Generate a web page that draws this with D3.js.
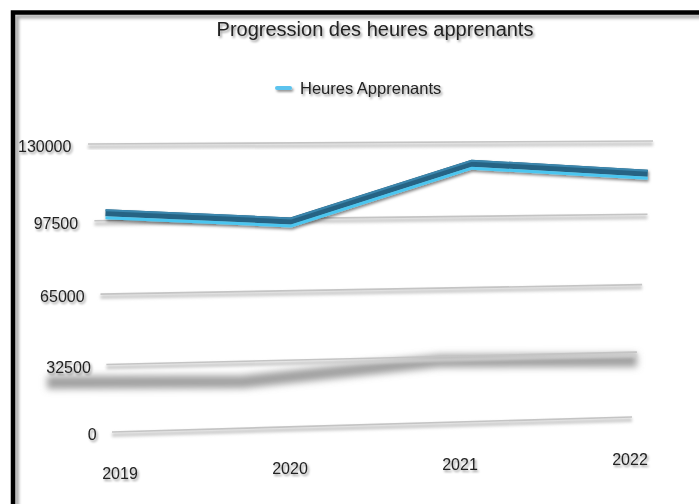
<!DOCTYPE html>
<html>
<head>
<meta charset="utf-8">
<script src="https://cdn.jsdelivr.net/npm/d3@7"></script>
<style>
	body {margin: 0; background: #fff;}
	svg {display: block; font-family: "Liberation Sans", Arial, sans-serif;}
</style>
</head>
<body>
<div id="chart-area"></div>
<script>
// Chart data
let years = ["2019", "2020", "2021", "2022"];
let heures = [100000, 95500, 120000, 115000];
let yTicks = [0, 32500, 65000, 97500, 130000];
let seriesName = "Heures Apprenants";
let chartTitle = "Progression des heures apprenants";

// SVG size
let width = 699,
	height = 504;

// Corners of the tilted floor the chart is drawn on: (u,v) = (0,0), (1,0), (1,1), (0,1)
let plane = [[112, 432], [632, 417], [653, 141], [88, 144]];
// Plane used for the soft shadow the line casts below
let shadowPlane = [[35, 452], [640, 440], [640, 350], [35, 362]];

// Square -> quad perspective mapping
function makeProjection(q) {
	let [x0, y0] = q[0], [x1, y1] = q[1], [x2, y2] = q[2], [x3, y3] = q[3];
	let dx1 = x1 - x2, dx2 = x3 - x2, dx3 = x0 - x1 + x2 - x3;
	let dy1 = y1 - y2, dy2 = y3 - y2, dy3 = y0 - y1 + y2 - y3;
	let den = dx1 * dy2 - dx2 * dy1;
	let g = (dx3 * dy2 - dx2 * dy3) / den,
		h = (dx1 * dy3 - dx3 * dy1) / den;
	let a = x1 - x0 + g * x1, b = x3 - x0 + h * x3, c = x0;
	let d = y1 - y0 + g * y1, e = y3 - y0 + h * y3, f = y0;
	return (u, v) => {
		let w = g * u + h * v + 1;
		return [(a * u + b * v + c) / w, (d * u + e * v + f) / w];
	};
}

let proj = makeProjection(plane);
let shadowProj = makeProjection(shadowPlane);

// Scales into the flat (u,v) space
let xScale = d3.scalePoint().domain(years).range([0.02, 0.995]);
let yScale = d3.scaleLinear().domain([0, 130000]).range([0, 1]);

// Year labels sit under the floor, following its slant
let xLabelX = d3.scalePoint().domain(years).range([120, 630]);
let xLabelY = d3.scalePoint().domain(years).range([479, 465]);

let svg = d3.select("#chart-area")
	.append("svg")
	.attr("width", width)
	.attr("height", height);

let defs = svg.append("defs");

let textShadow = defs.append("filter").attr("id", "textShadow")
	.attr("x", "-20%").attr("y", "-50%").attr("width", "140%").attr("height", "200%");
textShadow.append("feDropShadow")
	.attr("dx", 1.5).attr("dy", 2).attr("stdDeviation", 1.3)
	.attr("flood-color", "#000").attr("flood-opacity", 0.4);

let lineShadow = defs.append("filter").attr("id", "lineShadow")
	.attr("x", "-10%").attr("y", "-50%").attr("width", "120%").attr("height", "200%");
lineShadow.append("feDropShadow")
	.attr("dx", 1).attr("dy", 2).attr("stdDeviation", 1.5)
	.attr("flood-color", "#000").attr("flood-opacity", 0.5);

let blur = defs.append("filter").attr("id", "blur")
	.attr("x", "-10%").attr("y", "-100%").attr("width", "120%").attr("height", "300%");
blur.append("feGaussianBlur").attr("stdDeviation", 3.5);

let softBlur = defs.append("filter").attr("id", "softBlur")
	.attr("x", "-10%").attr("y", "-100%").attr("width", "120%").attr("height", "300%");
softBlur.append("feGaussianBlur").attr("stdDeviation", 1.5);

// Frame round the picture, with a soft inner shadow
svg.append("rect")
	.attr("x", 17).attr("y", 16.5)
	.attr("width", 720).attr("height", 520)
	.attr("fill", "none")
	.attr("stroke", "#aaa")
	.attr("stroke-width", 4)
	.attr("filter", "url(#softBlur)");

svg.append("rect")
	.attr("x", 13).attr("y", 12.5)
	.attr("width", 720).attr("height", 520)
	.attr("fill", "none")
	.attr("stroke", "#000")
	.attr("stroke-width", 4.5);

// Title
svg.append("text")
	.attr("x", 375)
	.attr("y", 36)
	.attr("text-anchor", "middle")
	.attr("font-size", 20)
	.attr("fill", "#222")
	.attr("filter", "url(#textShadow)")
	.text(chartTitle);

// Legend
let legend = svg.append("g").attr("filter", "url(#textShadow)");
legend.append("rect")
	.attr("x", 275).attr("y", 86)
	.attr("width", 17).attr("height", 4)
	.attr("rx", 2)
	.attr("fill", "#5cc3ee");
legend.append("text")
	.attr("x", 300)
	.attr("y", 94)
	.attr("font-size", 16.5)
	.attr("fill", "#222")
	.text(seriesName);

// Shadow cast by the line on the floor
let line = d3.line();
svg.append("path")
	.datum(heures)
	.attr("d", line(heures.map((v, i) => shadowProj(xScale(years[i]), yScale(v)))))
	.attr("fill", "none")
	.attr("stroke", "#888")
	.attr("stroke-width", 13)
	.attr("stroke-opacity", 0.8)
	.attr("filter", "url(#blur)");

// Grid lines
let grid = svg.append("g").attr("class", "grid");
grid.selectAll("line.gshadow")
	.data(yTicks)
	.enter()
	.append("line")
	.attr("class", "gshadow")
	.attr("x1", d => proj(0, yScale(d))[0])
	.attr("y1", d => proj(0, yScale(d))[1] + 3)
	.attr("x2", d => proj(1, yScale(d))[0])
	.attr("y2", d => proj(1, yScale(d))[1] + 3)
	.attr("stroke", "#ccc")
	.attr("stroke-width", 4)
	.attr("filter", "url(#softBlur)");
grid.selectAll("line.gline")
	.data(yTicks)
	.enter()
	.append("line")
	.attr("class", "gline")
	.attr("x1", d => proj(0, yScale(d))[0])
	.attr("y1", d => proj(0, yScale(d))[1])
	.attr("x2", d => proj(1, yScale(d))[0])
	.attr("y2", d => proj(1, yScale(d))[1])
	.attr("stroke", "#c4c4c4")
	.attr("stroke-width", 1.6);

// Y tick labels
svg.append("g")
	.attr("filter", "url(#textShadow)")
	.selectAll("text")
	.data(yTicks)
	.enter()
	.append("text")
	.attr("x", d => proj(-0.028, yScale(d))[0])
	.attr("y", d => proj(-0.028, yScale(d))[1] + 8)
	.attr("text-anchor", "end")
	.attr("font-size", 16)
	.attr("fill", "#222")
	.text(d => d);

// X tick labels
svg.append("g")
	.attr("filter", "url(#textShadow)")
	.selectAll("text")
	.data(years)
	.enter()
	.append("text")
	.attr("x", d => xLabelX(d))
	.attr("y", d => xLabelY(d))
	.attr("text-anchor", "middle")
	.attr("font-size", 16)
	.attr("fill", "#222")
	.text(d => d);

// The series as a ribbon: dark top face, bright cyan front edge
let pts = heures.map((v, i) => proj(xScale(years[i]), yScale(v)));
let ribbon = svg.append("g").attr("filter", "url(#lineShadow)");
ribbon.append("path")
	.attr("d", line(pts))
	.attr("transform", "translate(0,-2)")
	.attr("fill", "none")
	.attr("stroke", "#276484")
	.attr("stroke-width", 7)
	.attr("stroke-linejoin", "miter");
ribbon.append("path")
	.attr("d", line(pts))
	.attr("transform", "translate(0,-4.5)")
	.attr("fill", "none")
	.attr("stroke", "#3a86ad")
	.attr("stroke-width", 2);
ribbon.append("path")
	.attr("d", line(pts))
	.attr("transform", "translate(0,3)")
	.attr("fill", "none")
	.attr("stroke", "#4cc6f0")
	.attr("stroke-width", 3);
</script>
</body>
</html>
